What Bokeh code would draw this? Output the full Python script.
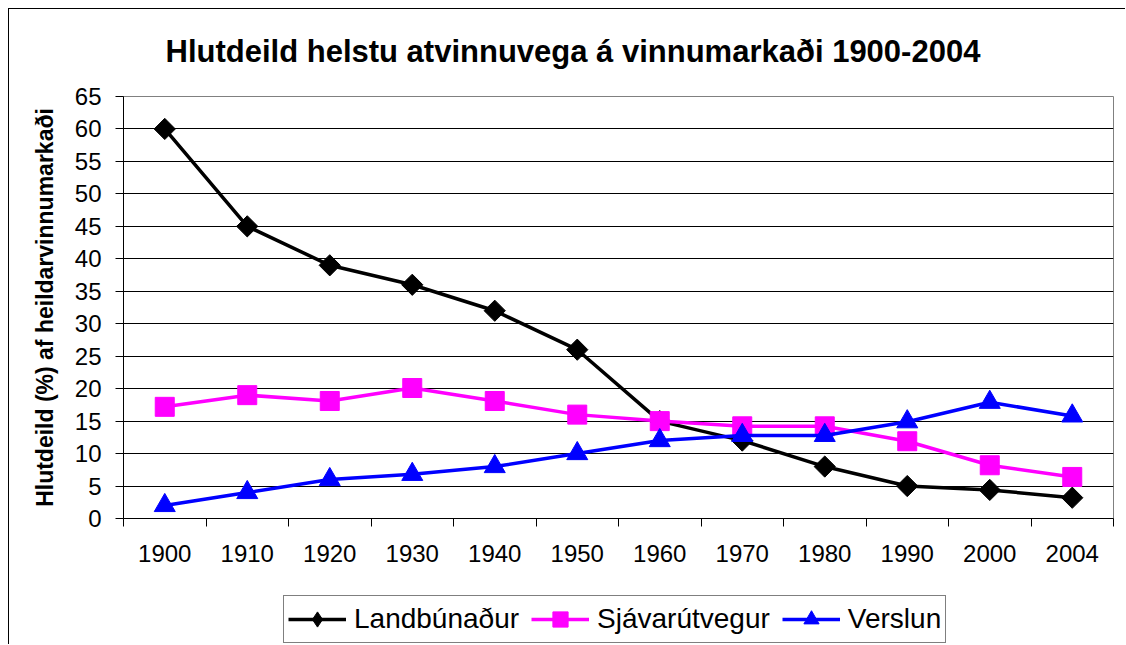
import numpy as np
from bokeh.plotting import figure
from bokeh.layouts import column
from bokeh.models import Range1d, FixedTicker, Legend, LegendItem, Label
from bokeh.embed import file_html
from bokeh.resources import INLINE

# ---- data ----
years = ["1900", "1910", "1920", "1930", "1940", "1950",
         "1960", "1970", "1980", "1990", "2000", "2004"]
landbunadur = [60, 45, 39, 36, 32, 26, 15, 12, 8, 5, 4.4, 3.2]
sjavarutvegur = [17.2, 19, 18.1, 20.1, 18.1, 16, 15, 14.2, 14.2, 11.9, 8.2, 6.4]
verslun = [2, 4, 6, 6.8, 8, 10, 12, 12.8, 12.8, 14.9, 17.9, 15.8]
y_ticks = [0, 5, 10, 15, 20, 25, 30, 35, 40, 45, 50, 55, 60, 65]

title_text = "Hlutdeild helstu atvinnuvega á vinnumarkaði 1900-2004"
y_label = "Hlutdeild (%) af heildarvinnumarkaði"
series_names = ["Landbúnaður", "Sjávarútvegur", "Verslun"]

FONT = "Liberation Sans"
x_idx = list(range(len(years)))
LW = 3.5
W = 1117


def strip(height):
    f = figure(width=W, height=height, output_backend="svg", toolbar_location=None,
               title=None, x_range=Range1d(-0.5, len(years) - 0.5), y_range=Range1d(0, 65),
               x_axis_type=None, y_axis_type=None,
               min_border_left=0, min_border_right=0, min_border_top=0,
               min_border_bottom=0, background_fill_color="white",
               border_fill_color="white")
    f.outline_line_color = None
    return f


# ---- title strip ----
pt = strip(71)
pt.add_layout(Label(x=42, y=29, x_units="screen", y_units="screen", text=title_text,
                    text_font=FONT, text_font_size="31px", text_font_style="bold",
                    text_color="black", text_align="left", text_baseline="alphabetic"))

# ---- main chart ----
p = figure(width=W, height=490, output_backend="svg", toolbar_location=None,
           title=None,
           x_range=Range1d(-0.5, len(years) - 0.5), y_range=Range1d(0, 65),
           min_border_left=114, min_border_right=13, min_border_top=16,
           min_border_bottom=52, background_fill_color="white",
           border_fill_color="white")

# frame
p.outline_line_color = "#808080"
p.outline_line_width = 1

# grid
p.xgrid.grid_line_color = None
p.ygrid.grid_line_color = "black"
p.ygrid.grid_line_width = 1

# y axis
p.yaxis.ticker = FixedTicker(ticks=y_ticks)
p.yaxis.axis_line_color = "black"
p.yaxis.major_tick_line_color = "black"
p.yaxis.major_tick_out = 8
p.yaxis.major_tick_in = 0
p.yaxis.minor_tick_line_color = None
p.yaxis.major_label_standoff = 14
p.yaxis.major_label_text_font = FONT
p.yaxis.major_label_text_font_size = "24px"
p.yaxis.major_label_text_color = "black"
p.yaxis.axis_label = y_label
p.yaxis.axis_label_text_font = FONT
p.yaxis.axis_label_text_font_size = "23px"
p.yaxis.axis_label_text_font_style = "bold"
p.yaxis.axis_label_text_color = "black"
p.yaxis.axis_label_standoff = 14

# x axis: labels at category centres, tick marks at category boundaries
p.xaxis.ticker = FixedTicker(ticks=x_idx,
                             minor_ticks=[i - 0.5 for i in range(len(years) + 1)])
p.xaxis.major_label_overrides = {i: y for i, y in enumerate(years)}
p.xaxis.axis_line_color = "black"
p.xaxis.major_tick_out = 0
p.xaxis.major_tick_in = 0
p.xaxis.minor_tick_line_color = "black"
p.xaxis.minor_tick_out = 8
p.xaxis.minor_tick_in = 0
p.xaxis.major_label_standoff = 18
p.xaxis.major_label_text_font = FONT
p.xaxis.major_label_text_font_size = "24px"
p.xaxis.major_label_text_color = "black"


def draw_series(fig, visible=True):
    r = []
    r.append(fig.line(x_idx, landbunadur, line_color="black", line_width=LW, visible=visible))
    if visible:
        r.append(fig.scatter(x_idx, landbunadur, marker="square", angle=np.pi / 4, size=15,
                             fill_color="black", line_color="black"))
    else:
        r.append(fig.scatter(x_idx, landbunadur, marker="diamond", size=15,
                             fill_color="black", line_color="black", visible=False))
    r.append(fig.line(x_idx, sjavarutvegur, line_color="#FF00FF", line_width=LW, visible=visible))
    r.append(fig.scatter(x_idx, sjavarutvegur, marker="square", size=19,
                         fill_color="#FF00FF", line_color="#FF00FF", visible=visible))
    r.append(fig.line(x_idx, verslun, line_color="#0000FF", line_width=LW, visible=visible))
    r.append(fig.scatter(x_idx, verslun, marker="triangle", size=21,
                         fill_color="#0000FF", line_color="#0000FF", visible=visible))
    return r


draw_series(p)

# ---- legend strip below the chart ----
pl = strip(75)
rl = draw_series(pl, visible=False)

legend = Legend(items=[LegendItem(label=series_names[0], renderers=[rl[0], rl[1]]),
                       LegendItem(label=series_names[1], renderers=[rl[2], rl[3]]),
                       LegendItem(label=series_names[2], renderers=[rl[4], rl[5]])],
                orientation="horizontal", location=(160, 2),
                border_line_color="black", border_line_width=1,
                background_fill_color="white",
                label_text_font=FONT, label_text_font_size="28px",
                label_text_color="black",
                glyph_width=58, glyph_height=38, label_standoff=8,
                spacing=12, padding=4, margin=0)
pl.add_layout(legend, "center")

layout = column(pt, p, pl, spacing=0, margin=(9, 0, 0, 9),
                styles={"box-shadow": "-1px -1px 0px 0px black"})
open("out.html", "w").write(file_html(layout, INLINE))
